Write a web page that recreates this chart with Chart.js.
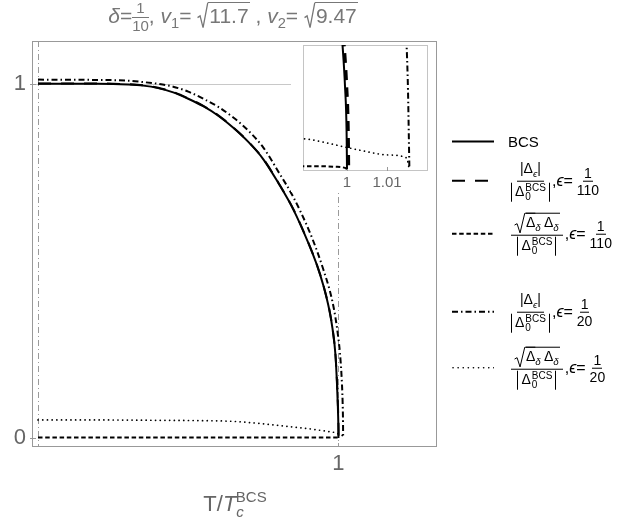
<!DOCTYPE html>
<html lang="en">
<head>
<meta charset="UTF-8">
<script src="https://cdn.jsdelivr.net/npm/chart.js"></script>
<title>Gap ratio vs temperature</title>
<style>
  body { margin: 0; background: #fff; font-family: "Liberation Sans", Arial, sans-serif; }
  #wrap { position: relative; width: 644px; height: 518px; overflow: hidden; }
  #main { position: absolute; left: 0; top: 0; }
  #insetBox { position: absolute; left: 291px; top: 42px; width: 145px; height: 150px; background: #fff; }
  #title { position: absolute; left: 0; width: 466px; top: 0px; text-align: center; font-size: 21px; color: #777; white-space: nowrap; }
  #xlabel { position: absolute; left: 0; width: 470px; top: 488px; text-align: center; font-size: 22px; color: #666; white-space: nowrap; }
  .fr { display: inline-flex; flex-direction: column; text-align: center; vertical-align: middle; line-height: 1.1; }
  .fr > span:first-child { border-bottom: 1px solid currentColor; padding: 0 1px; }
  .sq { position: relative; display: inline-block; padding-left: 11px; }
  .sq svg { position: absolute; left: 0; top: 0; width: 11px; height: 100%; overflow: visible; }
  .sq .rd { display: inline-block; border-top: 1.2px solid currentColor; padding: 1px 1px 0 1px; }
  .leg { position: absolute; left: 452px; display: flex; align-items: center; transform: translateY(-50%); color: #000; white-space: nowrap; }
  .leg svg.smp { width: 42px; height: 6px; margin-right: 17px; }
  .mfr { display: inline-flex; flex-direction: column; align-items: center; font-size: 14px; line-height: 1.1; }
  .mfr > .n { border-bottom: 1px solid #000; padding: 0 3px 1px 3px; }
  .mfr > .d { padding-top: 1px; }
  .bars { display: inline-flex; align-items: center; border-left: 1px solid #000; border-right: 1px solid #000; padding: 0 3px; }
  .ss { display: inline-flex; flex-direction: column; font-size: 10px; line-height: 0.95; margin-left: 1px; }
  .eq { font-size: 16px; margin-left: 2px; }
  .nfr { display: inline-flex; flex-direction: column; align-items: center; font-size: 14px; line-height: 1.15; margin-left: 4px; }
  .nfr > span:first-child { border-bottom: 1px solid #000; padding: 0 1px; }
  sub, sup { font-size: 70%; }
</style>
</head>
<body>
<div id="wrap">
  <canvas id="main" width="644" height="518"></canvas>
  <div id="insetBox"><canvas id="inset" width="145" height="150"></canvas></div>

  <div id="title"><i>δ</i>=<span class="fr" style="font-size:15px"><span>1</span><span>10</span></span>, <i>v</i><sub>1</sub>=&nbsp;<span class="sq"><svg viewBox="0 0 10 30" preserveAspectRatio="none"><path d="M0.5,18 L2.8,16 L5.5,29.5 L9.8,0.6" fill="none" stroke="#777" stroke-width="1.3" vector-effect="non-scaling-stroke"/></svg><span class="rd">11.7</span></span> , <i>v</i><sub>2</sub>=&nbsp;<span class="sq"><svg viewBox="0 0 10 30" preserveAspectRatio="none"><path d="M0.5,18 L2.8,16 L5.5,29.5 L9.8,0.6" fill="none" stroke="#777" stroke-width="1.3" vector-effect="non-scaling-stroke"/></svg><span class="rd">9.47</span></span></div>

  <div id="xlabel">T/<i>T</i><sub style="font-size:15px;vertical-align:-6px"><i>c</i></sub><sup style="font-size:15px;margin-left:-8px;vertical-align:9px">BCS</sup></div>

  <div class="leg" style="top:141px">
    <svg class="smp"><line x1="0" y1="3" x2="42" y2="3" stroke="#000" stroke-width="2"/></svg>
    <span style="font-size:15px;margin-left:-3px">BCS</span>
  </div>

  <div class="leg" style="top:181px">
    <svg class="smp"><line x1="0" y1="3" x2="42" y2="3" stroke="#000" stroke-width="2" stroke-dasharray="13,10"/></svg>
    <span class="mfr"><span class="n">|Δ<sub><i>ϵ</i></sub>|</span><span class="d"><span class="bars">Δ<span class="ss"><span>BCS</span><span>0</span></span></span></span></span>
    <span class="eq">,<i>ϵ</i>=</span><span class="nfr"><span>1</span><span>110</span></span>
  </div>

  <div class="leg" style="top:234px">
    <svg class="smp"><line x1="0" y1="3" x2="42" y2="3" stroke="#000" stroke-width="2" stroke-dasharray="4.5,2.7"/></svg>
    <span class="mfr"><span class="n"><span class="sq"><svg viewBox="0 0 10 30" preserveAspectRatio="none"><path d="M0.5,18 L2.8,16 L5.5,29.5 L9.8,0.6" fill="none" stroke="#000" stroke-width="1" vector-effect="non-scaling-stroke"/></svg><span class="rd"><span style="text-decoration:overline">Δ</span><sub><i>δ</i></sub> Δ<sub><i>δ</i></sub></span></span></span><span class="d"><span class="bars">Δ<span class="ss"><span>BCS</span><span>0</span></span></span></span></span>
    <span class="eq">,<i>ϵ</i>=</span><span class="nfr"><span>1</span><span>110</span></span>
  </div>

  <div class="leg" style="top:312px">
    <svg class="smp"><line x1="0" y1="3" x2="42" y2="3" stroke="#000" stroke-width="2" stroke-dasharray="6,3,1.5,3"/></svg>
    <span class="mfr"><span class="n">|Δ<sub><i>ϵ</i></sub>|</span><span class="d"><span class="bars">Δ<span class="ss"><span>BCS</span><span>0</span></span></span></span></span>
    <span class="eq">,<i>ϵ</i>=</span><span class="nfr"><span>1</span><span>20</span></span>
  </div>

  <div class="leg" style="top:368px">
    <svg class="smp"><line x1="1" y1="3" x2="42" y2="3" stroke="#000" stroke-width="1.6" stroke-linecap="round" stroke-dasharray="0.1,5"/></svg>
    <span class="mfr"><span class="n"><span class="sq"><svg viewBox="0 0 10 30" preserveAspectRatio="none"><path d="M0.5,18 L2.8,16 L5.5,29.5 L9.8,0.6" fill="none" stroke="#000" stroke-width="1" vector-effect="non-scaling-stroke"/></svg><span class="rd"><span style="text-decoration:overline">Δ</span><sub><i>δ</i></sub> Δ<sub><i>δ</i></sub></span></span></span><span class="d"><span class="bars">Δ<span class="ss"><span>BCS</span><span>0</span></span></span></span></span>
    <span class="eq">,<i>ϵ</i>=</span><span class="nfr"><span>1</span><span>20</span></span>
  </div>
</div>

<script>
  // BCS gap ratio (solid)
  const bcsT = [0, 0.2, 0.3, 0.35, 0.4, 0.45, 0.5, 0.55, 0.6, 0.65, 0.7, 0.75, 0.8, 0.85, 0.9, 0.93, 0.95, 0.97, 0.98, 0.99, 0.995, 0.998, 0.99875, 0.9995, 0.9999, 1.0];
  const bcsV = [1, 1, 0.998, 0.995, 0.988, 0.976, 0.958, 0.937, 0.91, 0.876, 0.836, 0.787, 0.72, 0.645, 0.55, 0.484, 0.43, 0.36, 0.31, 0.235, 0.155, 0.09, 0.068, 0.043, 0.019, 0];

  // |Δε| / |Δ0 BCS|, ε = 1/110 (long dashes)
  const absE110T = [0, 0.2, 0.3, 0.35, 0.4, 0.45, 0.5, 0.55, 0.6, 0.65, 0.7, 0.75, 0.8, 0.85, 0.9, 0.93, 0.95, 0.97, 0.98, 0.99, 0.9954, 0.9984, 0.99915, 0.9999, 1.0003, 1.0004];
  const absE110V = [1.001, 1.001, 0.999, 0.996, 0.989, 0.977, 0.959, 0.938, 0.911, 0.877, 0.837, 0.788, 0.721, 0.646, 0.551, 0.485, 0.431, 0.361, 0.311, 0.236, 0.155, 0.09, 0.068, 0.043, 0.019, 0];

  // sqrt(Δ̄δ Δδ) / |Δ0 BCS|, ε = 1/110 (short dashes)
  const sqrtE110T = [0, 0.5, 0.9, 0.99, 0.997, 0.9995, 1.0];
  const sqrtE110V = [0.0015, 0.0015, 0.0015, 0.0015, 0.0012, 0.0006, 0];

  // |Δε| / |Δ0 BCS|, ε = 1/20 (dash-dot)
  const absE20T = [0, 0.2, 0.3, 0.35, 0.4, 0.45, 0.5, 0.55, 0.6, 0.65, 0.7, 0.75, 0.8, 0.85, 0.9, 0.93, 0.95, 0.97, 0.98, 0.99, 1.0, 1.005, 1.01, 1.013, 1.0145, 1.0152, 1.0156];
  const absE20V = [1.012, 1.011, 1.009, 1.005, 1.0, 0.992, 0.978, 0.958, 0.935, 0.905, 0.868, 0.82, 0.752, 0.68, 0.59, 0.525, 0.475, 0.42, 0.385, 0.34, 0.28, 0.24, 0.18, 0.125, 0.08, 0.045, 0];

  // sqrt(Δ̄δ Δδ) / |Δ0 BCS|, ε = 1/20 (dotted)
  const sqrtE20T = [0, 0.2, 0.4, 0.55, 0.65, 0.75, 0.85, 0.92, 0.96, 0.98, 0.99, 0.9995, 1.005, 1.01, 1.015, 1.0153, 1.0156];
  const sqrtE20V = [0.051, 0.051, 0.05, 0.049, 0.047, 0.04, 0.031, 0.024, 0.019, 0.0165, 0.0155, 0.0114, 0.009, 0.0073, 0.0057, 0.0025, 0];

  // axes
  const xTicks = [1];
  const yTicks = [0, 1];
  const insetTicks = [1, 1.01];
  const refX = [0, 1];
  const refY = [1];

  const pts = (xs, ys) => xs.map((x, i) => ({ x: x, y: ys[i] }));

  function seriesSet(inset) {
    return [
      { label: 'BCS', data: pts(bcsT, bcsV), borderColor: '#000', borderWidth: 2 },
      { label: '|Δε|/|Δ0|, ε=1/110', data: pts(absE110T, absE110V), borderColor: '#000',
        borderWidth: inset ? 3.2 : 2, borderDash: inset ? [10, 7] : [13, 10] },
      { label: 'sqrt(Δδ Δδ)/|Δ0|, ε=1/110', data: pts(sqrtE110T, sqrtE110V), borderColor: '#000',
        borderWidth: 2, borderDash: [4.5, 2.7] },
      { label: '|Δε|/|Δ0|, ε=1/20', data: pts(absE20T, absE20V), borderColor: '#000',
        borderWidth: 2, borderDash: [6, 3, 1.5, 3] },
      { label: 'sqrt(Δδ Δδ)/|Δ0|, ε=1/20', data: pts(sqrtE20T, sqrtE20V), borderColor: '#000',
        borderWidth: 1.7, borderDash: [0.1, 4.6], borderCapStyle: 'round' },
    ].map(d => Object.assign(d, { pointRadius: 0, fill: false, cubicInterpolationMode: 'monotone' }));
  }

  // frame, small ticks and grey guide lines
  const framePlugin = {
    id: 'frame',
    beforeDatasetsDraw(chart, args, opts) {
      const { ctx, chartArea: a, scales: { x, y } } = chart;
      ctx.save();
      if (opts.guides) {
        ctx.lineWidth = 1;
        ctx.strokeStyle = '#c8c8c8';
        refY.forEach(v => {
          const py = Math.round(y.getPixelForValue(v)) + 0.5;
          ctx.beginPath(); ctx.moveTo(a.left, py); ctx.lineTo(a.right, py); ctx.stroke();
        });
        ctx.strokeStyle = '#9a9a9a';
        ctx.setLineDash([6, 3, 1, 3]);
        refX.forEach(v => {
          const px = Math.round(x.getPixelForValue(v)) + 0.5;
          ctx.beginPath(); ctx.moveTo(px, a.top); ctx.lineTo(px, a.bottom); ctx.stroke();
        });
        ctx.setLineDash([]);
      }
      ctx.strokeStyle = opts.color;
      ctx.lineWidth = 1;
      ctx.strokeRect(Math.round(a.left) + 0.5, Math.round(a.top) + 0.5,
        Math.round(a.right - a.left) - 1, Math.round(a.bottom - a.top) - 1);
      ctx.strokeStyle = '#999';
      x.ticks.forEach(t => {
        const px = Math.round(x.getPixelForValue(t.value)) + 0.5;
        ctx.beginPath(); ctx.moveTo(px, a.bottom); ctx.lineTo(px, a.bottom - 4); ctx.stroke();
      });
      if (opts.yTicks) {
        y.ticks.forEach(t => {
          const py = Math.round(y.getPixelForValue(t.value)) + 0.5;
          ctx.beginPath(); ctx.moveTo(a.left - 2, py); ctx.lineTo(a.left + 4, py); ctx.stroke();
        });
      }
      ctx.restore();
    }
  };

  new Chart(document.getElementById('main'), {
    type: 'line',
    data: { datasets: seriesSet(false) },
    plugins: [framePlugin],
    options: {
      responsive: false,
      animation: false,
      devicePixelRatio: 1,
      layout: { padding: { top: 41, right: 207, left: 0, bottom: 0 } },
      plugins: { legend: { display: false }, tooltip: { enabled: false },
        frame: { guides: true, yTicks: true, color: '#999' } },
      scales: {
        x: {
          type: 'linear', min: -0.02, max: 1.328,
          grid: { display: false, drawTicks: false }, border: { display: false },
          afterBuildTicks: s => { s.ticks = xTicks.map(v => ({ value: v })); },
          afterFit: s => { s.height = 71; },
          ticks: { color: '#666', padding: 4, font: { family: 'Liberation Sans', size: 22 }, callback: v => String(v) }
        },
        y: {
          type: 'linear', min: -0.0254, max: 1.121,
          grid: { display: false, drawTicks: false }, border: { display: false },
          afterBuildTicks: s => { s.ticks = yTicks.map(v => ({ value: v })); },
          afterFit: s => { s.width = 32; },
          ticks: { color: '#666', padding: 6, font: { family: 'Liberation Sans', size: 22 }, callback: v => String(v) }
        }
      }
    }
  });

  new Chart(document.getElementById('inset'), {
    type: 'line',
    data: { datasets: seriesSet(true) },
    plugins: [framePlugin],
    options: {
      responsive: false,
      animation: false,
      devicePixelRatio: 1,
      layout: { padding: { top: 3, right: 8, left: 12, bottom: 0 } },
      plugins: { legend: { display: false }, tooltip: { enabled: false },
        frame: { guides: false, yTicks: false, color: '#c4c4c4' } },
      scales: {
        x: {
          type: 'linear', min: 0.989, max: 1.02025,
          grid: { display: false, drawTicks: false }, border: { display: false },
          afterBuildTicks: s => { s.ticks = insetTicks.map(v => ({ value: v })); },
          afterFit: s => { s.height = 21; },
          ticks: { color: '#666', padding: 3, font: { family: 'Liberation Sans', size: 15 }, callback: v => String(v) }
        },
        y: { type: 'linear', display: false, min: -0.001, max: 0.0642 }
      }
    }
  });
</script>
</body>
</html>
